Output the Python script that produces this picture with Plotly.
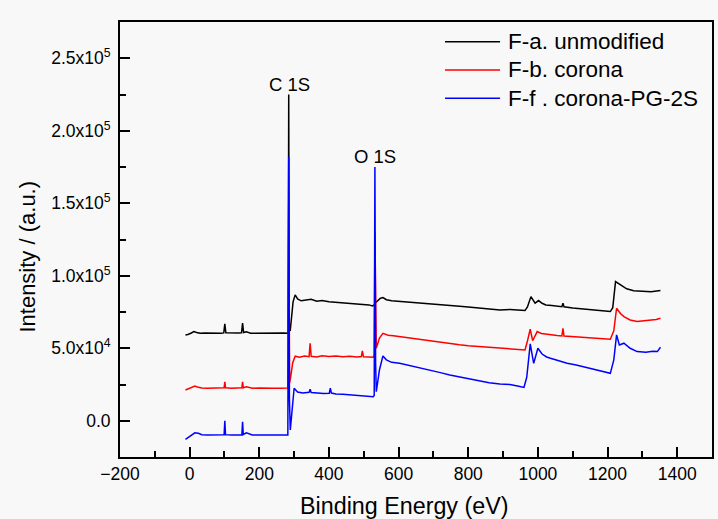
import plotly.graph_objects as go

# ---------------- data ----------------
be_a = [-12, -5, 5, 12, 20, 30, 45, 60, 75, 90, 98, 101, 104, 120, 140, 149, 152, 155, 163, 175,
        195, 215, 235, 255, 270, 280, 283, 284.5, 286, 289, 293, 297, 303, 310, 320, 335, 349, 365,
        380, 400, 420, 440, 460, 482, 500, 515, 525, 531, 533, 540, 548, 555, 565, 580, 603, 630,
        660, 690, 720, 747, 775, 800, 830, 860, 891, 920, 945, 963, 970, 980, 992, 1002, 1012, 1023,
        1040, 1055, 1069, 1072, 1075, 1100, 1131, 1160, 1185, 1208, 1215, 1223, 1237, 1255, 1275,
        1300, 1325, 1352]
int_a = [59200, 59500, 60500, 61500, 60900, 60300, 60500, 60300, 60500, 60400, 60600, 66800, 60700,
         60400, 60500, 60600, 67300, 60800, 61300, 60400,
         60500, 60300, 60500, 60400, 60500, 60400, 61000, 225000, 63000, 62600, 72000, 82000, 86800,
         84000, 82700, 83500, 83800, 82500,
         82900, 82000, 81700, 81200, 80900, 80600, 80200, 79900, 79200, 80000, 81300, 82500, 84500,
         85000, 83500, 82700, 82200, 81800,
         81000, 80700, 79900, 79200, 79000, 78500, 77900, 77300, 76400, 76800, 76200, 76000, 78500,
         85600, 81100, 82900, 81000, 79900,
         79500, 78900, 78700, 81100, 78600, 77800, 76900, 76300, 75800, 75300, 78000, 96000, 93700,
         91000, 89600,
         89300, 89000, 89800]

be_b = [-12, -5, 5, 15, 22, 35, 50, 65, 80, 95, 99, 101, 103, 120, 140, 150, 152, 154, 163, 180,
        200, 220, 240, 260, 275, 282, 284.5, 287, 290, 296, 303, 315, 330, 343, 346, 349, 365, 380,
        400, 420, 440, 460, 480, 493, 496, 499, 515, 527, 530, 532, 536, 545, 555, 570, 585, 603,
        630, 660, 690, 720, 747, 775, 800, 830, 860, 891, 920, 945, 963, 970, 978, 985, 998, 1010,
        1020, 1036, 1055, 1069, 1072, 1075, 1100, 1131, 1160, 1185, 1208, 1218, 1226, 1237, 1247,
        1265, 1285, 1305, 1325, 1340, 1352]
int_b = [21200, 21800, 23000, 24000, 23300, 22600, 22400, 22600, 22300, 22500, 22700, 26900, 22700,
         22400, 22600, 22700, 26900, 22800, 23500, 22400,
         22600, 22300, 22500, 22400, 22600, 22500, 150000, 26000, 30000, 40000, 44500, 43800, 44600,
         44200, 53400, 44500, 44000, 44800,
         44300, 44600, 44100, 44500, 44000, 44300, 48100, 44200, 44000, 43800, 45000, 130000, 50000,
         57000, 60300, 59000, 58600, 58000,
         57400, 56200, 55400, 54100, 53000, 52400, 51800, 51200, 50600, 50000, 49600, 49100, 48800,
         55000, 63100, 55200, 61500, 60200,
         59800, 59200, 58800, 58500, 63800, 58400, 58000, 57600, 57100, 56700, 56200, 62000, 77600,
         74000, 71800,
         69500, 68400, 69000, 69400, 69900, 70700]

be_f = [-12, -5, 5, 15, 25, 35, 50, 65, 80, 95, 99, 101, 103, 120, 140, 150, 152, 154, 163, 180,
        200, 220, 240, 260, 275, 282, 284.5, 286.5, 289, 295, 300, 310, 325, 343, 346, 349, 365,
        385, 401, 404, 407, 420, 440, 460, 480, 500, 515, 527, 530, 532, 534, 536, 545, 555, 565,
        580, 603, 630, 660, 690, 720, 747, 775, 800, 830, 860, 891, 920, 945, 960, 968, 978, 988,
        1000, 1012, 1025, 1036, 1060, 1084, 1110, 1131, 1160, 1185, 1208, 1218, 1226, 1234, 1247,
        1265, 1285, 1310, 1330, 1343, 1352]
int_f = [-12800, -11500, -9500, -8300, -8600, -9600, -9900, -9700, -10000, -9800, -9600, 0, -9600,
         -9900, -9700, -9600, -700, -9500, -8300, -9800,
         -9900, -10000, -9800, -9900, -10000, -9900, 182000, 15000, -6400, 10000, 22400, 19800, 19200,
         19600, 21700, 19500, 19000,
         18800, 19000, 22400, 19100, 18500, 18200, 17900, 17500, 17300, 16800, 16600, 17500, 175000,
         40000, 20000, 35000, 44700, 42000,
         40300, 39600, 38200, 36600, 35000, 33200, 31600, 30300, 29000, 27400, 26200, 25300, 25000,
         23800, 23000, 30000, 53000, 39600,
         50000, 46000, 44000, 43100, 41200, 39600, 38500, 37300, 35800, 34200, 32700, 42000, 59200,
         52300, 53500,
         50000, 47700, 47200, 47900, 47700, 50700]

series_names = ["F-a. unmodified", "F-b. corona", "F-f . corona-PG-2S"]
series_colors = ["#000000", "#ff0000", "#0000ff"]

ytick_vals = [0, 50000, 100000, 150000, 200000, 250000]
ytick_text = ["0.0", "5.0x10<sup>4</sup>", "1.0x10<sup>5</sup>", "1.5x10<sup>5</sup>",
              "2.0x10<sup>5</sup>", "2.5x10<sup>5</sup>"]

peak_labels = ["C 1S", "O 1S"]
peak_x = [288, 532]
peak_y = [231800, 182300]

x_title = "Binding Energy (eV)"
y_title = "Intensity / (a.u.)"

# ---------------- figure ----------------
FONT = "Liberation Sans, Arial, sans-serif"
BG = "#f8f8f8"
fig = go.Figure()
for xs, ys, name, col in zip([be_a, be_b, be_f], [int_a, int_b, int_f], series_names, series_colors):
    fig.add_trace(go.Scatter(x=xs, y=ys, mode="lines", name=name,
                             line=dict(color=col, width=1.5)))

for txt, px, py in zip(peak_labels, peak_x, peak_y):
    fig.add_annotation(x=px, y=py, text=txt, showarrow=False,
                       font=dict(family=FONT, size=18.5, color="#000"))

# legend drawn in paper coordinates (matches reference layout)
leg_rows_y = [0.9547, 0.8897, 0.8246]
for name, col, ly in zip(series_names, series_colors, leg_rows_y):
    fig.add_shape(type="line", xref="paper", yref="paper", x0=0.549, x1=0.642, y0=ly, y1=ly,
                  line=dict(color=col, width=1.5))
    fig.add_annotation(xref="paper", yref="paper", x=0.652, y=ly, text=name, showarrow=False,
                       xanchor="left", yanchor="middle",
                       font=dict(family=FONT, size=22.5, color="#000"))

# axis titles
fig.add_annotation(xref="paper", yref="paper", x=0.4814, y=-0.1126, text=x_title,
                   showarrow=False, xanchor="center", yanchor="middle",
                   font=dict(family=FONT, size=23.3, color="#000"))
fig.add_annotation(xref="paper", yref="paper", x=-0.157, y=0.4609, text=y_title,
                   showarrow=False, xanchor="center", yanchor="middle", textangle=-90,
                   font=dict(family=FONT, size=22, color="#000"))

axis_common = dict(showline=True, linecolor="#000", linewidth=1.8, mirror=True,
                   ticks="inside", ticklen=10, tickwidth=1.5, tickcolor="#000",
                   showgrid=False, zeroline=False,
                   tickfont=dict(family=FONT, size=17.5, color="#000"))

fig.update_layout(
    width=718, height=519,
    margin=dict(l=120, r=6, t=22, b=62, autoexpand=False),
    paper_bgcolor=BG, plot_bgcolor=BG,
    font=dict(family=FONT, color="#000"),
    showlegend=False,
    xaxis=dict(range=[-200, 1500], tick0=-200, dtick=200,
               minor=dict(ticks="inside", dtick=100, ticklen=6, tickwidth=1.5, tickcolor="#000"),
               **axis_common),
    yaxis=dict(range=[-25000, 275000], tickvals=ytick_vals, ticktext=ytick_text,
               ticklabelstandoff=4,
               minor=dict(ticks="inside", dtick=25000, ticklen=6, tickwidth=1.5, tickcolor="#000"),
               **axis_common),
)

fig.write_html("out.html", config={"displayModeBar": False},
               post_script="document.body.style.margin='0';document.body.style.background='%s';" % BG)
